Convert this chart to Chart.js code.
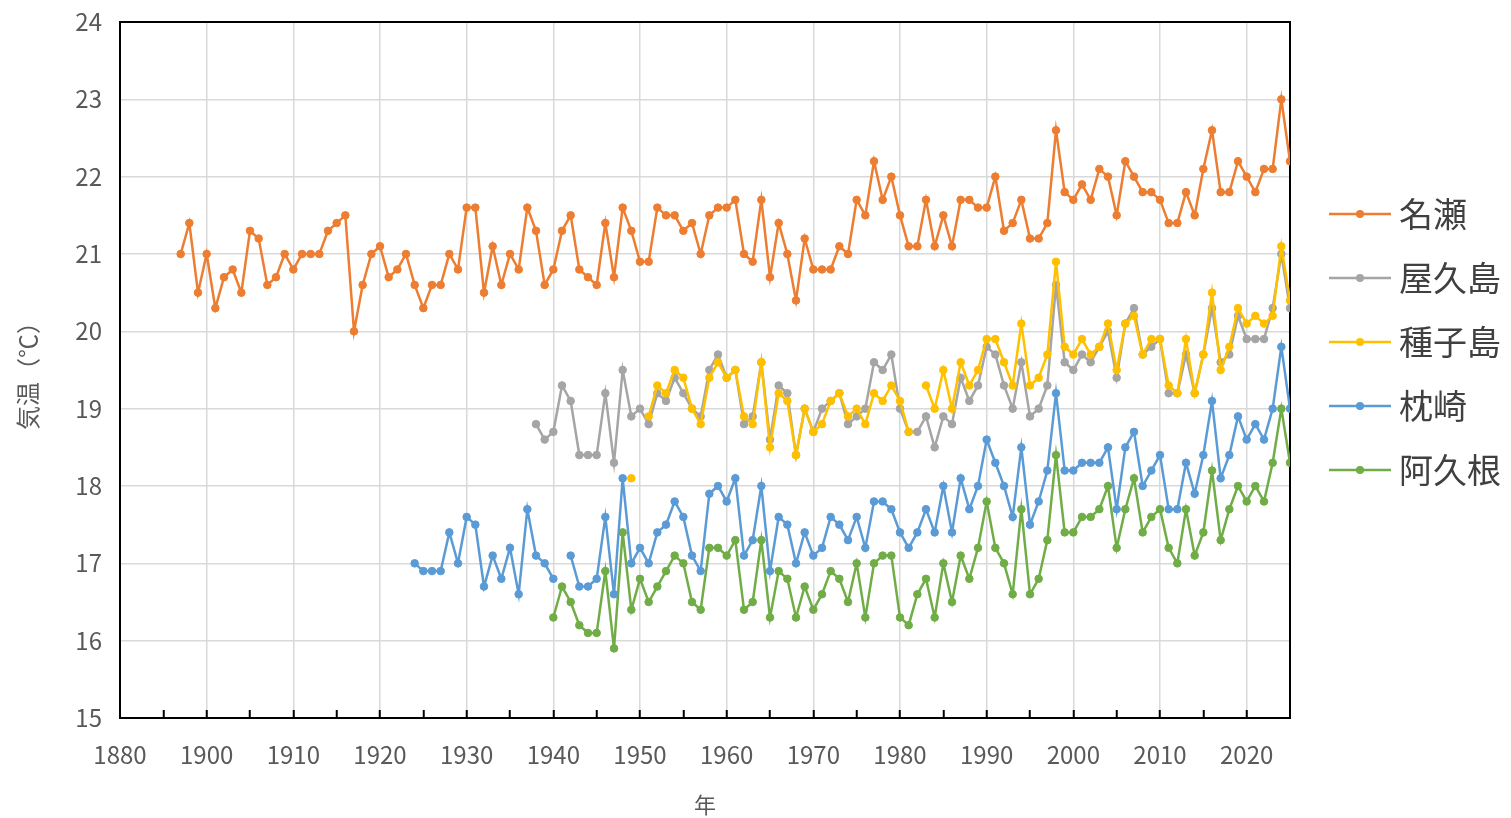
<!DOCTYPE html>
<html lang="ja">
<head>
<meta charset="utf-8">
<title>気温の推移</title>
<script src="https://cdn.jsdelivr.net/npm/chart.js@4.4.1/dist/chart.umd.min.js"></script>
<style>
  html, body { margin: 0; padding: 0; background: #ffffff; }
  #wrap { position: relative; width: 1511px; height: 818px; }
</style>
</head>
<body>
<div id="wrap"><canvas id="c"></canvas></div>
<script>
// ---- data (annual mean temperature, °C) ----
const seriesNames = ['名瀬', '屋久島', '種子島', '枕崎', '阿久根'];
const seriesColors = ['#ED7D31', '#A5A5A5', '#FFC000', '#5B9BD5', '#70AD47'];

const nazeStart = 1897;
const naze = [
  21.0, 21.4, 20.5, 21.0, 20.3, 20.7, 20.8, 20.5, 21.3, 21.2,
  20.6, 20.7, 21.0, 20.8, 21.0, 21.0, 21.0, 21.3, 21.4, 21.5,
  20.0, 20.6, 21.0, 21.1, 20.7, 20.8, 21.0, 20.6, 20.3, 20.6,
  20.6, 21.0, 20.8, 21.6, 21.6, 20.5, 21.1, 20.6, 21.0, 20.8,
  21.6, 21.3, 20.6, 20.8, 21.3, 21.5, 20.8, 20.7, 20.6, 21.4,
  20.7, 21.6, 21.3, 20.9, 20.9, 21.6, 21.5, 21.5, 21.3, 21.4,
  21.0, 21.5, 21.6, 21.6, 21.7, 21.0, 20.9, 21.7, 20.7, 21.4,
  21.0, 20.4, 21.2, 20.8, 20.8, 20.8, 21.1, 21.0, 21.7, 21.5,
  22.2, 21.7, 22.0, 21.5, 21.1, 21.1, 21.7, 21.1, 21.5, 21.1,
  21.7, 21.7, 21.6, 21.6, 22.0, 21.3, 21.4, 21.7, 21.2, 21.2,
  21.4, 22.6, 21.8, 21.7, 21.9, 21.7, 22.1, 22.0, 21.5, 22.2,
  22.0, 21.8, 21.8, 21.7, 21.4, 21.4, 21.8, 21.5, 22.1, 22.6,
  21.8, 21.8, 22.2, 22.0, 21.8, 22.1, 22.1, 23.0, 22.2
];

const yakushimaStart = 1938;
const yakushima = [
  18.8, 18.6, 18.7, 19.3, 19.1, 18.4, 18.4, 18.4, 19.2, 18.3,
  19.5, 18.9, 19.0, 18.8, 19.2, 19.1, 19.4, 19.2, 19.0, 18.9,
  19.5, 19.7, 19.4, 19.5, 18.8, 18.9, 19.6, 18.6, 19.3, 19.2,
  18.4, 19.0, 18.7, 19.0, 19.1, 19.2, 18.8, 18.9, 19.0, 19.6,
  19.5, 19.7, 19.0, 18.7, 18.7, 18.9, 18.5, 18.9, 18.8, 19.4,
  19.1, 19.3, 19.8, 19.7, 19.3, 19.0, 19.6, 18.9, 19.0, 19.3,
  20.6, 19.6, 19.5, 19.7, 19.6, 19.8, 20.0, 19.4, 20.1, 20.3,
  19.7, 19.8, 19.9, 19.2, 19.2, 19.7, 19.2, 19.7, 20.3, 19.6,
  19.7, 20.2, 19.9, 19.9, 19.9, 20.3, 21.0, 20.3
];

const tanegashimaStart = 1949;
const tanegashima = [
  18.1, null, 18.9, 19.3, 19.2, 19.5, 19.4, 19.0, 18.8, 19.4,
  19.6, 19.4, 19.5, 18.9, 18.8, 19.6, 18.5, 19.2, 19.1, 18.4,
  19.0, 18.7, 18.8, 19.1, 19.2, 18.9, 19.0, 18.8, 19.2, 19.1,
  19.3, 19.1, 18.7, null, 19.3, 19.0, 19.5, 19.0, 19.6, 19.3,
  19.5, 19.9, 19.9, 19.6, 19.3, 20.1, 19.3, 19.4, 19.7, 20.9,
  19.8, 19.7, 19.9, 19.7, 19.8, 20.1, 19.5, 20.1, 20.2, 19.7,
  19.9, 19.9, 19.3, 19.2, 19.9, 19.2, 19.7, 20.5, 19.5, 19.8,
  20.3, 20.1, 20.2, 20.1, 20.2, 21.1, 20.4
];

const makurazakiStart = 1924;
const makurazaki = [
  17.0, 16.9, 16.9, 16.9, 17.4, 17.0, 17.6, 17.5, 16.7, 17.1,
  16.8, 17.2, 16.6, 17.7, 17.1, 17.0, 16.8, null, 17.1, 16.7,
  16.7, 16.8, 17.6, 16.6, 18.1, 17.0, 17.2, 17.0, 17.4, 17.5,
  17.8, 17.6, 17.1, 16.9, 17.9, 18.0, 17.8, 18.1, 17.1, 17.3,
  18.0, 16.9, 17.6, 17.5, 17.0, 17.4, 17.1, 17.2, 17.6, 17.5,
  17.3, 17.6, 17.2, 17.8, 17.8, 17.7, 17.4, 17.2, 17.4, 17.7,
  17.4, 18.0, 17.4, 18.1, 17.7, 18.0, 18.6, 18.3, 18.0, 17.6,
  18.5, 17.5, 17.8, 18.2, 19.2, 18.2, 18.2, 18.3, 18.3, 18.3,
  18.5, 17.7, 18.5, 18.7, 18.0, 18.2, 18.4, 17.7, 17.7, 18.3,
  17.9, 18.4, 19.1, 18.1, 18.4, 18.9, 18.6, 18.8, 18.6, 19.0,
  19.8, 19.0
];

const akuneStart = 1940;
const akune = [
  16.3, 16.7, 16.5, 16.2, 16.1, 16.1, 16.9, 15.9, 17.4, 16.4,
  16.8, 16.5, 16.7, 16.9, 17.1, 17.0, 16.5, 16.4, 17.2, 17.2,
  17.1, 17.3, 16.4, 16.5, 17.3, 16.3, 16.9, 16.8, 16.3, 16.7,
  16.4, 16.6, 16.9, 16.8, 16.5, 17.0, 16.3, 17.0, 17.1, 17.1,
  16.3, 16.2, 16.6, 16.8, 16.3, 17.0, 16.5, 17.1, 16.8, 17.2,
  17.8, 17.2, 17.0, 16.6, 17.7, 16.6, 16.8, 17.3, 18.4, 17.4,
  17.4, 17.6, 17.6, 17.7, 18.0, 17.2, 17.7, 18.1, 17.4, 17.6,
  17.7, 17.2, 17.0, 17.7, 17.1, 17.4, 18.2, 17.3, 17.7, 18.0,
  17.8, 18.0, 17.8, 18.3, 19.0, 18.3
];

// axis ticks (the reference labels its left edge "1880")
const xTickValues = [1890, 1895, 1900, 1905, 1910, 1915, 1920, 1925, 1930, 1935,
  1940, 1945, 1950, 1955, 1960, 1965, 1970, 1975, 1980, 1985, 1990, 1995,
  2000, 2005, 2010, 2015, 2020, 2025];
const xLabelValues = [1890, 1900, 1910, 1920, 1930, 1940, 1950, 1960, 1970, 1980, 1990, 2000, 2010, 2020];
const xLabelTexts = ['1880', '1900', '1910', '1920', '1930', '1940', '1950', '1960', '1970', '1980', '1990', '2000', '2010', '2020'];
const yTickValues = [15, 16, 17, 18, 19, 20, 21, 22, 23, 24];

// ---- chart ----
const starts = [nazeStart, yakushimaStart, tanegashimaStart, makurazakiStart, akuneStart];
const values = [naze, yakushima, tanegashima, makurazaki, akune];
const drawOrder = [0, 5, 1, 0, 0];

function toPoints(start, vals) {
  return vals.map((v, i) => ({ x: start + i, y: v }));
}

function legendMarker(color) {
  const c = document.createElement('canvas');
  c.width = 80; c.height = 12;
  const g = c.getContext('2d');
  g.strokeStyle = color; g.lineWidth = 2.5;
  g.beginPath(); g.moveTo(18, 6); g.lineTo(80, 6); g.stroke();
  g.fillStyle = color;
  g.beginPath(); g.arc(49, 6, 4, 0, Math.PI * 2); g.fill();
  return c;
}
const markers = seriesColors.map(legendMarker);

const datasets = seriesNames.map((name, i) => ({
  label: name,
  data: toPoints(starts[i], values[i]),
  borderColor: seriesColors[i],
  backgroundColor: seriesColors[i],
  pointBackgroundColor: seriesColors[i],
  pointBorderColor: seriesColors[i],
  borderWidth: 2.5,
  pointRadius: 3.8,
  pointBorderWidth: 1,
  tension: 0,
  spanGaps: false,
  order: drawOrder[i]
}));

const fontFamily = '"Noto Sans CJK JP", "Noto Sans", sans-serif';
const gridGray = '#D9D9D9';
const clear = 'rgba(0,0,0,0)';

new Chart(document.getElementById('c'), {
  type: 'line',
  data: { datasets },
  options: {
    responsive: true,
    maintainAspectRatio: false,
    animation: false,
    layout: { padding: { top: 22, right: 0, bottom: 0, left: 0 } },
    plugins: {
      tooltip: { enabled: false },
      legend: {
        position: 'right',
        align: 'start',
        title: { display: true, text: '', padding: { top: 135, bottom: 0 }, font: { size: 10, lineHeight: 1 } },
        labels: {
          usePointStyle: true,
          pointStyleWidth: 62,
          padding: 30,
          color: '#404040',
          font: { family: fontFamily, size: 34 },
          generateLabels: (chart) => chart.data.datasets.map((ds, i) => ({
            text: ds.label,
            pointStyle: markers[i],
            fillStyle: ds.borderColor,
            strokeStyle: ds.borderColor,
            lineWidth: 0,
            hidden: false,
            datasetIndex: i,
            fontColor: '#404040'
          }))
        }
      }
    },
    scales: {
      x: {
        type: 'linear',
        position: 'bottom',
        min: 1890,
        max: 2025,
        afterBuildTicks: (s) => { s.ticks = xTickValues.map(v => ({ value: v })); },
        afterFit: (s) => { s.height = 100; },
        ticks: {
          autoSkip: false,
          maxRotation: 0,
          padding: 30,
          color: '#595959',
          font: { family: fontFamily, size: 24 },
          callback: (v) => {
            const k = xLabelValues.indexOf(v);
            return k >= 0 ? xLabelTexts[k] : '';
          }
        },
        grid: {
          drawTicks: true,
          tickLength: -8,
          lineWidth: 1.5,
          tickWidth: 2,
          color: (ctx) => (ctx.tick && ctx.tick.value % 10 === 0 && ctx.tick.value !== 1890) ? gridGray : clear,
          tickColor: (ctx) => (ctx.tick && (ctx.tick.value === 1890 || ctx.tick.value === 2025)) ? clear : '#000000'
        },
        border: { display: true, color: '#000000', width: 2 },
        title: {
          display: true,
          text: '年',
          color: '#595959',
          font: { family: fontFamily, size: 22, lineHeight: 1.2 },
          padding: { top: 0, bottom: 0 }
        }
      },
      y: {
        type: 'linear',
        position: 'left',
        min: 15,
        max: 24,
        afterBuildTicks: (s) => { s.ticks = yTickValues.map(v => ({ value: v })); },
        afterFit: (s) => { s.width = 120; s.paddingTop = 0; s.paddingBottom = 0; },
        ticks: {
          padding: 18,
          color: '#595959',
          font: { family: fontFamily, size: 24 }
        },
        grid: { drawTicks: false, color: gridGray, lineWidth: 1.5 },
        border: { display: true, color: '#000000', width: 2 },
        title: {
          display: true,
          text: '気温（℃）',
          color: '#595959',
          font: { family: fontFamily, size: 24, lineHeight: 1.2 },
          padding: { top: 13, bottom: 0 }
        }
      },
      xTop: {
        type: 'linear',
        position: 'top',
        min: 1890,
        max: 2025,
        afterFit: (s) => { s.height = 0; },
        ticks: { display: false },
        grid: { display: false, drawTicks: false },
        border: { display: true, color: '#000000', width: 2 }
      },
      yRight: {
        type: 'linear',
        position: 'right',
        min: 15,
        max: 24,
        afterFit: (s) => { s.width = 0; s.paddingTop = 0; s.paddingBottom = 0; },
        ticks: { display: false },
        grid: { display: false, drawTicks: false },
        border: { display: true, color: '#000000', width: 2 }
      }
    }
  }
});
</script>
</body>
</html>
